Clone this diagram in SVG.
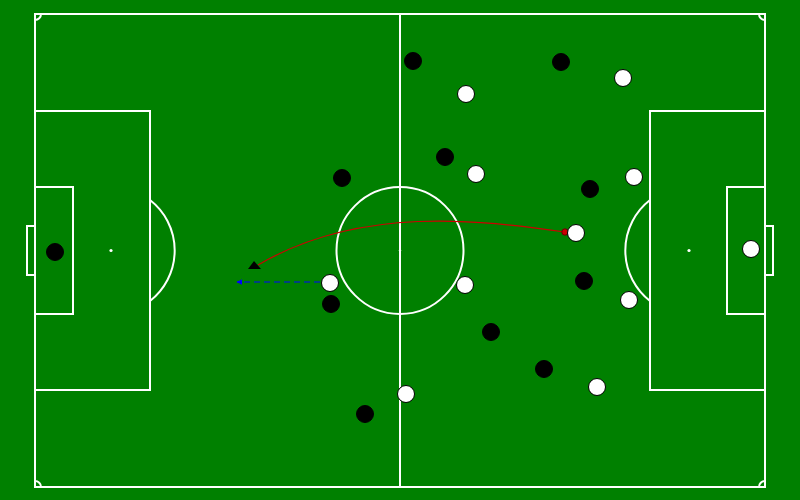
<svg xmlns="http://www.w3.org/2000/svg" width="800" height="500" viewBox="0 0 800 500">
<defs>
<style>
.ln{fill:none;stroke:#fff;stroke-width:2}
.bk{fill:#000;stroke:#000;stroke-width:1}
.wh{fill:#fff;stroke:#000;stroke-width:1}
</style>
<marker id="ab" viewBox="0 0 10 10" refX="9" refY="5" markerWidth="5" markerHeight="5" orient="auto"><path d="M0,0 L10,5 L0,10 z" fill="#0000ff"/></marker>
</defs>
<rect x="0" y="0" width="800" height="500" fill="#008000"/>
<g id="pitch">
<rect class="ln" x="35" y="14" width="730" height="473"/>
<line class="ln" x1="400" y1="14" x2="400" y2="487"/>
<circle class="ln" cx="400" cy="250.5" r="63.5"/>
<circle cx="400" cy="250.5" r="1.2" fill="#fff"/>
<rect class="ln" x="35" y="111" width="115" height="279"/>
<rect class="ln" x="35" y="187" width="38" height="127"/>
<rect class="ln" x="27" y="226" width="8" height="49"/>
<circle cx="111" cy="250.5" r="1.6" fill="#fff"/>
<path class="ln" d="M150,200 A64,64 0 0 1 150,301"/>
<rect class="ln" x="650" y="111" width="115" height="279"/>
<rect class="ln" x="727" y="187" width="38" height="127"/>
<rect class="ln" x="765" y="226" width="8" height="49"/>
<circle cx="689" cy="250.5" r="1.6" fill="#fff"/>
<path class="ln" d="M650,200 A64,64 0 0 0 650,301"/>
<path class="ln" d="M35,20 A6,6 0 0 0 41,14"/>
<path class="ln" d="M759,14 A6,6 0 0 0 765,20"/>
<path class="ln" d="M35,481 A6,6 0 0 1 41,487"/>
<path class="ln" d="M759,487 A6,6 0 0 1 765,481"/>
</g>
<g id="connectors">
<path d="M565,232 C480,220 360,205 258,265" fill="none" stroke="#cc0000" stroke-width="1.2"/>
<line x1="320" y1="282" x2="237" y2="282" stroke="#0000ff" stroke-width="1.2" stroke-dasharray="6,4" marker-end="url(#ab)"/>
</g>
<g id="ball"><circle cx="565" cy="232" r="3.2" fill="#cc0000" stroke="#600" stroke-width="1"/></g>
<g id="target"><polygon points="254,261 248,269 261,269" fill="#000"/></g>
<g id="black-team">
<circle class="bk" cx="413" cy="61" r="8.5"/>
<circle class="bk" cx="561" cy="62" r="8.5"/>
<circle class="bk" cx="445" cy="157" r="8.5"/>
<circle class="bk" cx="342" cy="178" r="8.5"/>
<circle class="bk" cx="590" cy="189" r="8.5"/>
<circle class="bk" cx="55" cy="252" r="8.5"/>
<circle class="bk" cx="584" cy="281" r="8.5"/>
<circle class="bk" cx="331" cy="304" r="8.5"/>
<circle class="bk" cx="491" cy="332" r="8.5"/>
<circle class="bk" cx="544" cy="369" r="8.5"/>
<circle class="bk" cx="365" cy="414" r="8.5"/>
</g>
<g id="white-team">
<circle class="wh" cx="466" cy="94" r="8.5"/>
<circle class="wh" cx="623" cy="78" r="8.5"/>
<circle class="wh" cx="476" cy="174" r="8.5"/>
<circle class="wh" cx="634" cy="177" r="8.5"/>
<circle class="wh" cx="576" cy="233" r="8.5"/>
<circle class="wh" cx="751" cy="249" r="8.5"/>
<circle class="wh" cx="330" cy="283" r="8.5"/>
<circle class="wh" cx="465" cy="285" r="8.5"/>
<circle class="wh" cx="629" cy="300" r="8.5"/>
<circle class="wh" cx="597" cy="387" r="8.5"/>
<circle class="wh" cx="406" cy="394" r="8.5"/>
</g>
</svg>
